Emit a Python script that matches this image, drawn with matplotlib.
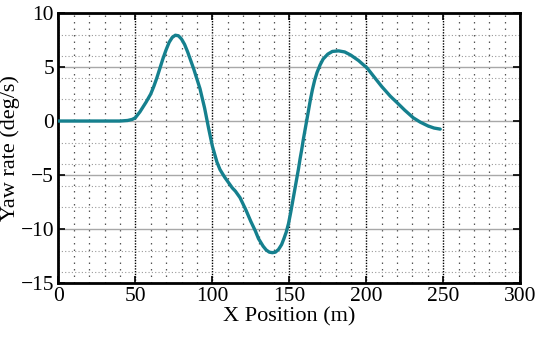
import numpy as np
import matplotlib as mpl
import matplotlib.pyplot as plt
from matplotlib.ticker import MultipleLocator

mpl.rcParams.update({
    "font.family": "serif", "font.serif": ["Liberation Serif", "DejaVu Serif"],
    "mathtext.fontset": "stix",
})

# yaw-rate trace (x in m, yaw rate in deg/s)
x_pos = [0, 10, 20, 30, 40, 45, 48, 50, 53, 57, 60, 62, 64, 66, 68, 70, 72, 74, 76, 78,
         80, 82, 84, 86, 88, 90, 92, 95, 97.5, 100, 103, 105, 108, 110, 113, 115,
         118, 120, 122, 125, 128, 130, 133, 135, 137, 139, 141, 143, 145, 146.5, 148,
         149.5, 151, 152.5, 154, 155.5, 156, 157, 158, 159, 160, 161, 162, 163.6, 165, 166.5,
         168, 170, 172, 175, 178, 182, 186, 190, 195, 200.6, 205, 210, 215.6, 220,
         225, 230.5, 235, 240, 244, 248]
yaw = [0, 0, 0, 0, 0, 0.05, 0.15, 0.3, 0.85, 1.75, 2.5, 3.2, 4.0, 4.9, 5.8, 6.6, 7.3, 7.75, 7.95, 7.9,
       7.6, 7.1, 6.4, 5.6, 4.8, 3.9, 3.0, 1.2, -0.6, -2.3, -3.8, -4.5, -5.2, -5.6, -6.2, -6.5,
       -7.1, -7.7, -8.3, -9.3, -10.2, -10.9, -11.6, -11.95, -12.15, -12.2, -12.15, -11.9, -11.45, -10.9, -10.3,
       -9.5, -8.4, -7.2, -6.0, -4.8, -4.4, -3.5, -2.7, -1.8, -1.0, -0.2, 0.6, 1.9, 2.9, 3.8,
       4.5, 5.2, 5.75, 6.2, 6.45, 6.5, 6.4, 6.1, 5.6, 4.9, 4.1, 3.2, 2.3, 1.7,
       1.0, 0.3, -0.1, -0.45, -0.65, -0.75]

fig = plt.figure(figsize=(5.5, 3.45), dpi=100)
ax = fig.add_axes([0.106, 0.18, 0.84, 0.782])

ax.plot(x_pos, yaw, color="#15808e", lw=2.4, solid_capstyle="round",
        solid_joinstyle="round", zorder=3)

ax.set_xlim(0, 300)
ax.set_ylim(-15, 10)
ax.xaxis.set_major_locator(MultipleLocator(50))
ax.xaxis.set_minor_locator(MultipleLocator(10))
ax.yaxis.set_major_locator(MultipleLocator(5))
ax.yaxis.set_minor_locator(MultipleLocator(2))

# MATLAB-style grids
ax.grid(True, which="major", axis="x", color="black", ls=(0, (1, 1)), lw=1.0, zorder=1)
ax.grid(True, which="major", axis="y", color="#a8a8a8", ls="-", lw=1.0, zorder=1)
ax.grid(True, which="minor", axis="x", color="#555555", ls=(0, (1.2, 4)), lw=0.9, zorder=1)
ax.grid(True, which="minor", axis="y", color="#9a9a9a", ls=(0, (1, 2)), lw=0.8, zorder=1)
ax.set_axisbelow(True)

for sp in ax.spines.values():
    sp.set_linewidth(2.0)
ax.tick_params(which="major", direction="in", length=5, width=1.2, top=True,
               right=True, labelsize=15.5, pad=3)
ax.tick_params(which="minor", length=0)

ax.set_xlabel("X Position (m)", fontsize=16, labelpad=1)
ax.set_ylabel("Yaw rate (deg/s)", fontsize=16)
ax.yaxis.set_label_coords(-0.082, 0.5)

fig.savefig("out.png", dpi=100)
